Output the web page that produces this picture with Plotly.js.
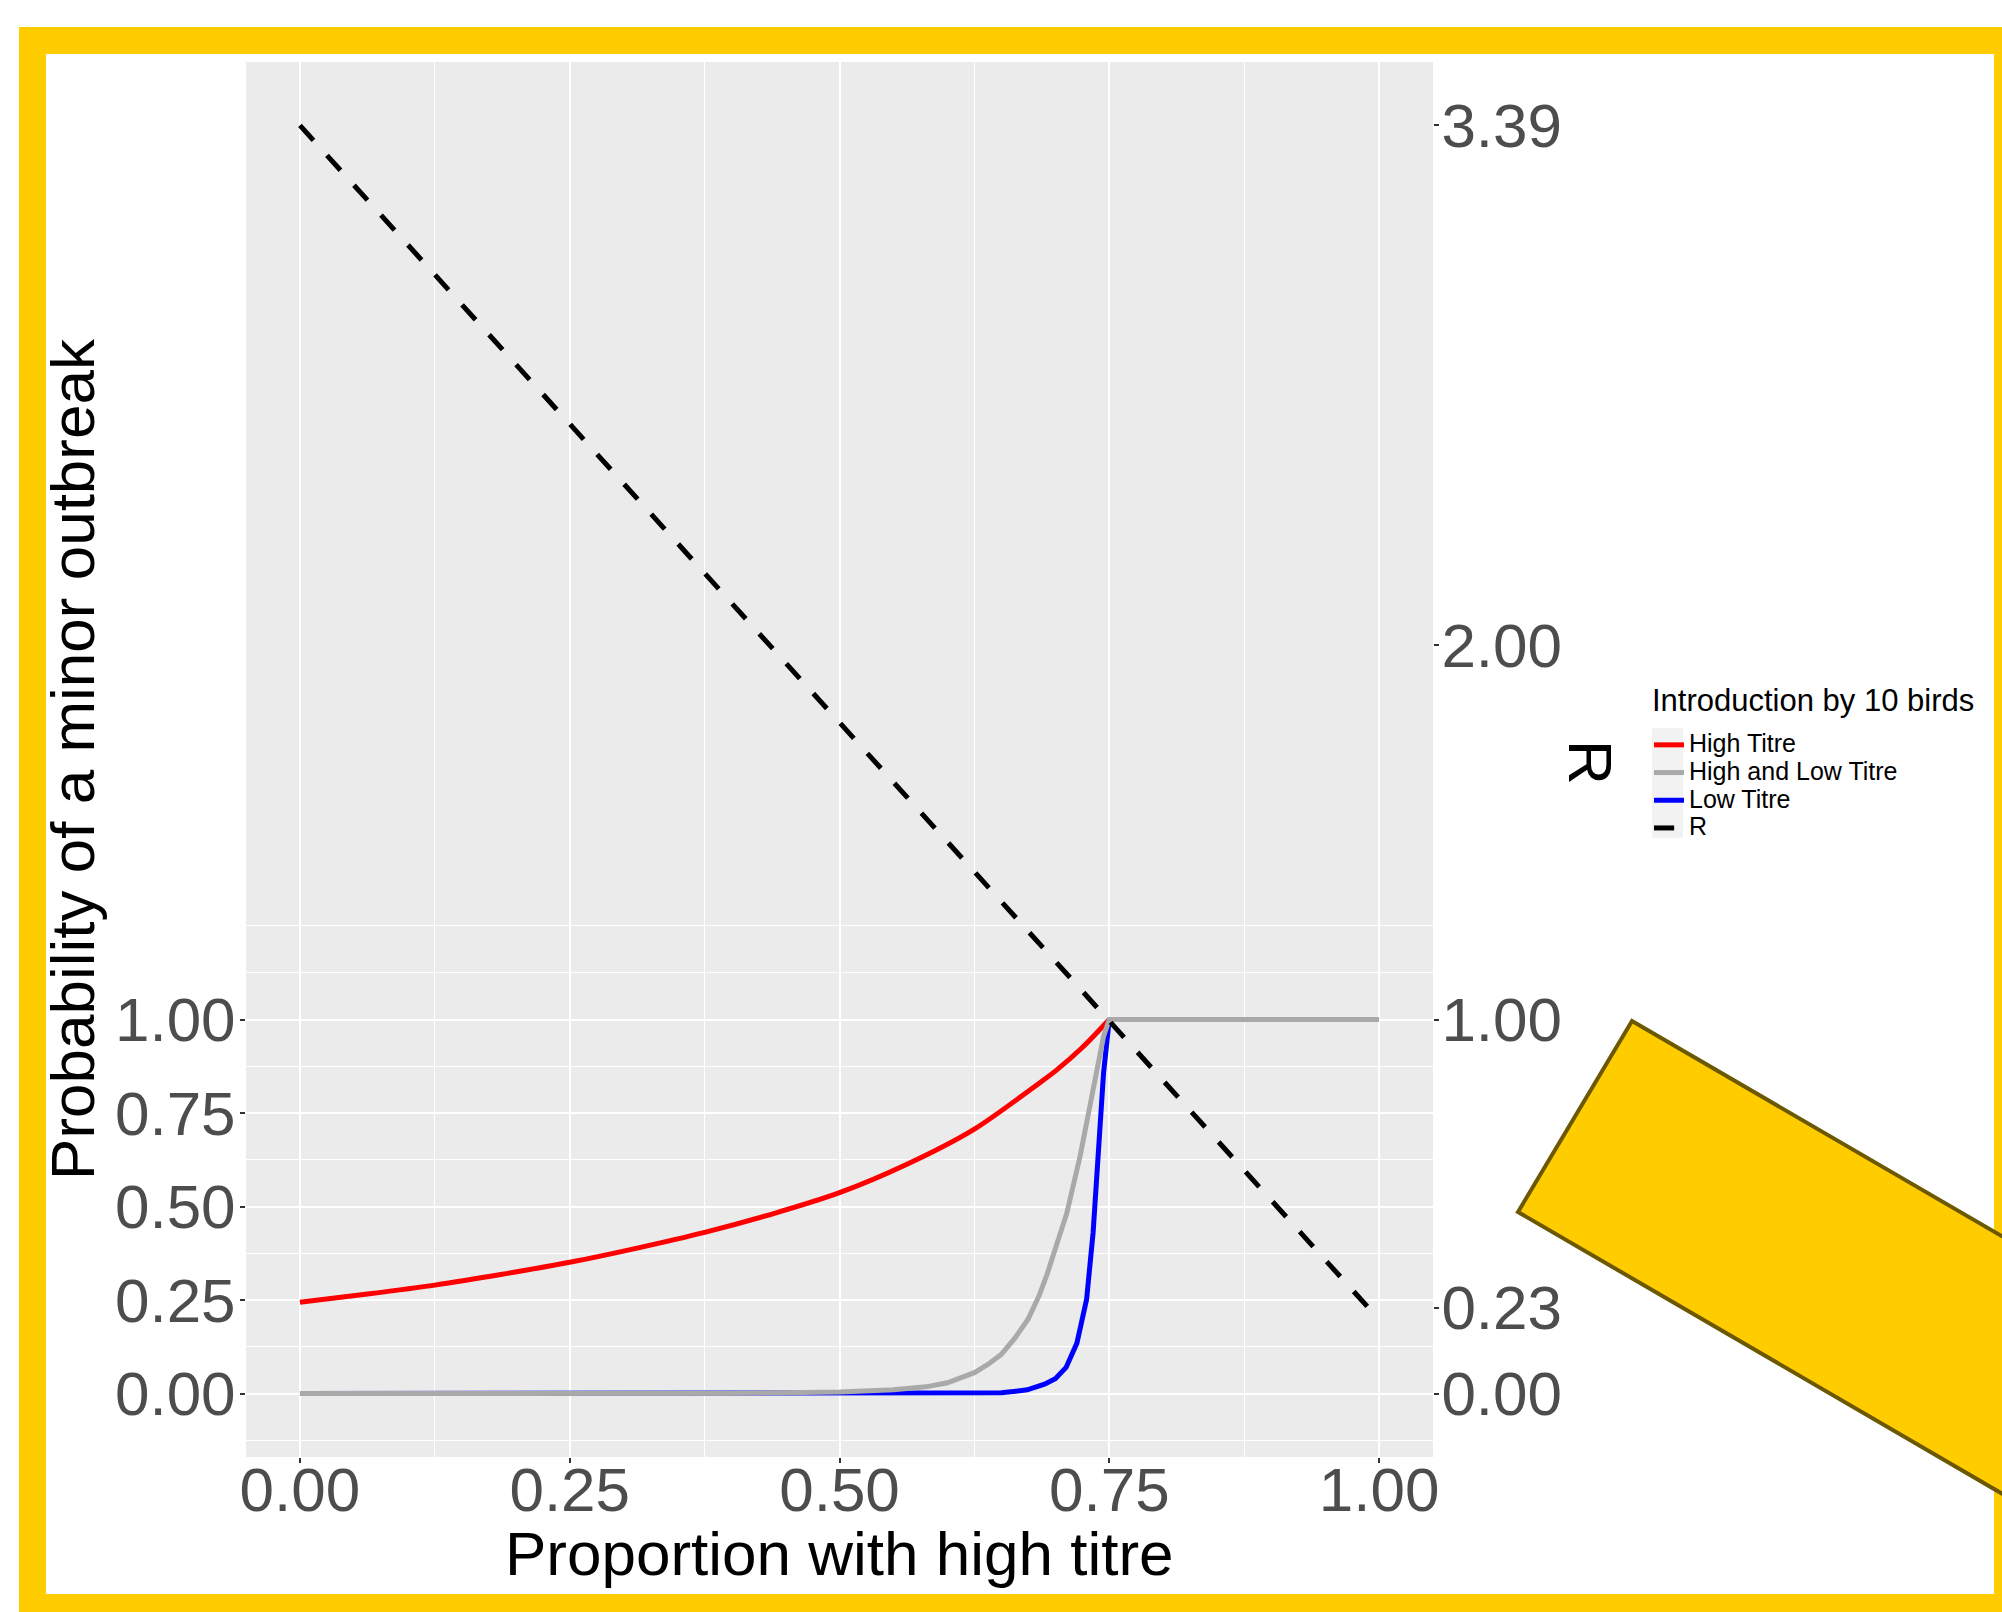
<!DOCTYPE html>
<html>
<head>
<meta charset="utf-8">
<script src="https://cdn.plot.ly/plotly-3.0.1.min.js"></script>
<style>
  html, body { margin: 0; padding: 0; background: #ffffff; }
  #chart { width: 2002px; height: 1612px; }
</style>
</head>
<body>
<div id="chart"></div>
<script>
// ---- Data ----
const pHigh = [0, 0.0625, 0.125, 0.1875, 0.25, 0.3125, 0.375, 0.4375, 0.5, 0.5625, 0.625, 0.6875, 0.7, 0.725, 0.75];
const probHigh = [0.244, 0.266, 0.290, 0.319, 0.351, 0.389, 0.431, 0.480, 0.537, 0.613, 0.707, 0.835, 0.862, 0.925, 1.0];

const pBoth = [0, 0.25, 0.4, 0.5, 0.55, 0.58, 0.6, 0.625, 0.6375, 0.65, 0.6625, 0.675, 0.685, 0.6925, 0.7107, 0.723, 0.735, 0.7447, 0.75, 1.0];
const probBoth = [0, 0, 0.001, 0.004, 0.01, 0.018, 0.029, 0.056, 0.078, 0.105, 0.148, 0.2, 0.262, 0.32, 0.483, 0.635, 0.822, 0.955, 1.0, 1.0];

const pLow = [0, 0.6, 0.65, 0.674, 0.69, 0.7, 0.71, 0.72, 0.729, 0.735, 0.74, 0.7447, 0.75];
const probLow = [0, 0, 0.002, 0.01, 0.025, 0.04, 0.07, 0.135, 0.252, 0.43, 0.652, 0.857, 1.0];

const pR = [0, 0.99];
const valR = [3.39, 0.23];

const xTicks = [0, 0.25, 0.5, 0.75, 1];
const xTickText = ["0.00", "0.25", "0.50", "0.75", "1.00"];
const yTicks = [0, 0.25, 0.5, 0.75, 1];
const yTickText = ["0.00", "0.25", "0.50", "0.75", "1.00"];
const y2Ticks = [0, 0.23, 1, 2, 3.39];
const y2TickText = ["0.00", "0.23", "1.00", "2.00", "3.39"];

const xTitle = "Proportion with high titre";
const yTitle = "Probability of a minor outbreak";
const y2Title = "R";
const legendTitle = "Introduction by 10 birds";
const names = ["High Titre", "High and Low Titre", "Low Titre", "R"];

// ---- Layout geometry (pixels) ----
const W = 2002, Hh = 1612;
const L = 246, R = 1433, T = 62, B = 1457;
const PW = R - L, PH = B - T;
const px = x => (x - L) / PW;
const py = y => (B - y) / PH;

const FONT = "Liberation Sans, Arial, Helvetica, sans-serif";
const yRange = [-0.1695, 3.5595];
const legName = s => '<span style="font-size:25px">' + s + '</span>';

const traces = [
  { x: pHigh, y: probHigh, name: legName(names[0]), type: "scatter", mode: "lines",
    line: { color: "#FF0000", width: 5, shape: "spline", smoothing: 0.8 }, legendrank: 1 },
  { x: pLow, y: probLow, name: legName(names[2]), type: "scatter", mode: "lines",
    line: { color: "#0000FF", width: 5 }, legendrank: 3 },
  { x: pBoth, y: probBoth, name: legName(names[1]), type: "scatter", mode: "lines",
    line: { color: "#A9A9A9", width: 5 }, legendrank: 2 },
  { x: pR, y: valR, name: legName(names[3]), type: "scatter", mode: "lines", yaxis: "y2",
    line: { color: "#000000", width: 5, dash: "20.15px,20.15px" }, legendrank: 4 }
];

function rect(x0, y0, x1, y1, color) {
  return { type: "rect", xref: "paper", yref: "paper", layer: "above",
    x0: px(x0), x1: px(x1), y0: py(y0), y1: py(y1),
    fillcolor: color, line: { width: 0 } };
}
function poly(pts) {
  return "M" + pts.map(p => px(p[0]) + "," + py(p[1])).join(" L") + " Z";
}

const yellow = "#FFCC00";
const shapes = [
  rect(19, 27, 46, 1640, yellow),
  rect(19, 27, 2040, 54, yellow),
  rect(1994, 27, 2040, 1640, yellow),
  rect(19, 1594, 2040, 1640, yellow),
  { type: "path", xref: "paper", yref: "paper", layer: "above",
    path: poly([[1632, 1021], [1518, 1212], [2123, 1564], [2237, 1373]]),
    fillcolor: yellow, line: { color: "#6B5800", width: 4 } },
  rect(1652, 728, 1683, 838, "#F2F2F2")
];

const layout = {
  width: W, height: Hh,
  margin: { l: L, r: W - R, t: T, b: Hh - B, pad: 0 },
  paper_bgcolor: "#FFFFFF",
  plot_bgcolor: "#EBEBEB",
  font: { family: FONT, color: "#000000" },
  showlegend: true,
  legend: {
    x: px(1649), xanchor: "left", y: py(726), yanchor: "top",
    bgcolor: "rgba(0,0,0,0)", borderwidth: 0,
    font: { size: 19, color: "#000000", family: FONT },
    tracegroupgap: 0
  },
  xaxis: {
    range: [-0.05, 1.05], showline: false, zeroline: false,
    tickmode: "array", tickvals: xTicks, ticktext: xTickText,
    ticks: "outside", ticklen: 5, tickwidth: 2, tickcolor: "#333333",
    ticklabelstandoff: -26,
    tickfont: { size: 62, color: "#4D4D4D", family: FONT },
    showgrid: true, gridcolor: "#FFFFFF", gridwidth: 2,
    minor: { tickmode: "array", tickvals: [0.125, 0.375, 0.625, 0.875],
      showgrid: true, gridcolor: "#FFFFFF", gridwidth: 1, ticks: "" }
  },
  yaxis: {
    range: yRange, showline: false, zeroline: false,
    tickmode: "array", tickvals: yTicks, ticktext: yTickText,
    ticks: "outside", ticklen: 5, tickwidth: 2, tickcolor: "#333333",
    ticklabelstandoff: -8,
    tickfont: { size: 62, color: "#4D4D4D", family: FONT },
    showgrid: true, gridcolor: "#FFFFFF", gridwidth: 2,
    minor: { tickmode: "array", tickvals: [-0.125, 0.125, 0.375, 0.625, 0.875, 1.125, 1.25],
      showgrid: true, gridcolor: "#FFFFFF", gridwidth: 1, ticks: "" },
    title: { text: yTitle, font: { size: 62, color: "#000000", family: FONT }, standoff: 0 }
  },
  yaxis2: {
    range: yRange, overlaying: "y", side: "right", showline: false, zeroline: false,
    showgrid: false,
    tickmode: "array", tickvals: y2Ticks, ticktext: y2TickText,
    ticks: "outside", ticklen: 5, tickwidth: 2, tickcolor: "#333333",
    ticklabelstandoff: -10,
    tickfont: { size: 62, color: "#4D4D4D", family: FONT }
  },
  annotations: [
    { text: xTitle, xref: "paper", yref: "paper", x: 0.5, y: py(1553),
      xanchor: "center", yanchor: "middle", showarrow: false,
      font: { size: 62, color: "#000000", family: FONT } },
    { text: y2Title, xref: "paper", yref: "paper", x: px(1591), y: py(762),
      xanchor: "center", yanchor: "middle", showarrow: false, textangle: 90,
      font: { size: 62, color: "#000000", family: FONT } },
    { text: legendTitle, xref: "paper", yref: "paper", x: px(1650), y: py(700),
      xanchor: "left", yanchor: "middle", showarrow: false,
      font: { size: 31, color: "#000000", family: FONT } }
  ],
  shapes: shapes
};

Plotly.newPlot("chart", traces, layout, { displayModeBar: false, staticPlot: true });
</script>
</body>
</html>
